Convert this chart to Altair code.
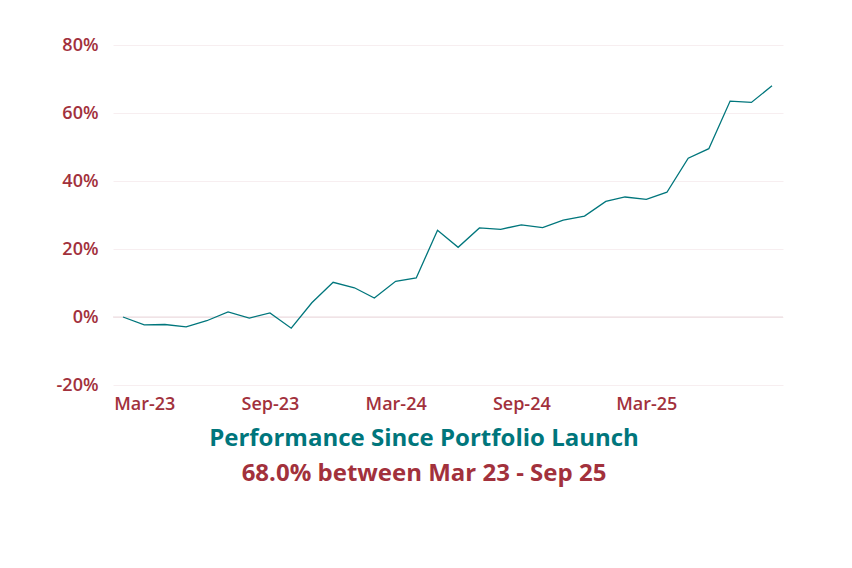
import altair as alt
import pandas as pd

dates = [
    "2023-02-28", "2023-03-31", "2023-04-30", "2023-05-31", "2023-06-30", "2023-07-31",
    "2023-08-31", "2023-09-30", "2023-10-31", "2023-11-30", "2023-12-31", "2024-01-31",
    "2024-02-29", "2024-03-31", "2024-04-30", "2024-05-31", "2024-06-30", "2024-07-31",
    "2024-08-31", "2024-09-30", "2024-10-31", "2024-11-30", "2024-12-31", "2025-01-31",
    "2025-02-28", "2025-03-31", "2025-04-30", "2025-05-31", "2025-06-30", "2025-07-31",
    "2025-08-31", "2025-09-30",
]
performance = [
    0.0, -2.3, -2.2, -2.9, -1.1, 1.5, -0.3, 1.2, -3.3, 4.2, 10.2, 8.6,
    5.6, 10.5, 11.5, 25.5, 20.5, 26.2, 25.8, 27.1, 26.3, 28.5, 29.7, 34.0,
    35.3, 34.6, 36.7, 46.7, 49.5, 63.5, 63.1, 68.0,
]
tick_dates = [(2023, 3, 31), (2023, 9, 30), (2024, 3, 31), (2024, 9, 30), (2025, 3, 31)]
y_ticks = [-20, 0, 20, 40, 60, 80]
title_text = "Performance Since Portfolio Launch"
subtitle_text = "68.0% between Mar 23 - Sep 25"

RED = "#a2313c"
TEAL = "#00767c"
FONT = "Open Sans"

df = pd.DataFrame({"date": dates, "perf": performance})
zero_df = pd.DataFrame({"y": [0]})

x_enc = alt.X(
    "date:T",
    scale=alt.Scale(
        type="utc",
        domain=[
            alt.DateTime(year=2023, month=2, date=13, hours=12, utc=True),
            alt.DateTime(year=2025, month=10, date=16, utc=True),
        ],
    ),
    axis=alt.Axis(
        title=None,
        values=[alt.DateTime(year=y, month=m, date=d, utc=True) for (y, m, d) in tick_dates],
        labelExpr="utcFormat(datum.value, '%b-%y')",
        grid=False,
        ticks=False,
        domain=False,
        labelColor=RED,
        labelFont=FONT,
        labelFontSize=18,
        labelFontWeight=600,
        labelPadding=10,
        labelAlign="center",
    ),
)

y_enc = alt.Y(
    "perf:Q",
    scale=alt.Scale(domain=[-20, 80], nice=False, zero=False),
    axis=alt.Axis(
        title=None,
        values=y_ticks,
        labelExpr="datum.value + '%'",
        grid=True,
        gridColor="#f7eef0",
        gridWidth=1,
        ticks=False,
        domain=False,
        labelColor=RED,
        labelFont=FONT,
        labelFontSize=18,
        labelFontWeight=600,
        labelPadding=15,
    ),
)

line = alt.Chart(df).mark_line(color=TEAL, strokeWidth=1.3).encode(x=x_enc, y=y_enc)

zero_rule = alt.Chart(zero_df).mark_rule(color="#ead8dc", strokeWidth=1).encode(y=alt.Y("y:Q"))

chart = (
    alt.layer(zero_rule, line)
    .properties(
        width=670,
        height=340,
        autosize=alt.AutoSizeParams(type="none"),
        padding={"left": 105, "top": 37, "right": 60, "bottom": 160},
        title=alt.TitleParams(
            text=title_text,
            subtitle=subtitle_text,
            orient="bottom",
            anchor="middle",
            dx=-24,
            font=FONT,
            fontSize=24,
            fontWeight="bold",
            color=TEAL,
            subtitleFont=FONT,
            subtitleFontSize=24,
            subtitleFontWeight="bold",
            subtitleColor=RED,
            subtitlePadding=11,
            offset=14,
        ),
    )
    .configure_view(stroke=None)
)

chart.save("out.html", embed_options={"renderer": "svg", "actions": False})
